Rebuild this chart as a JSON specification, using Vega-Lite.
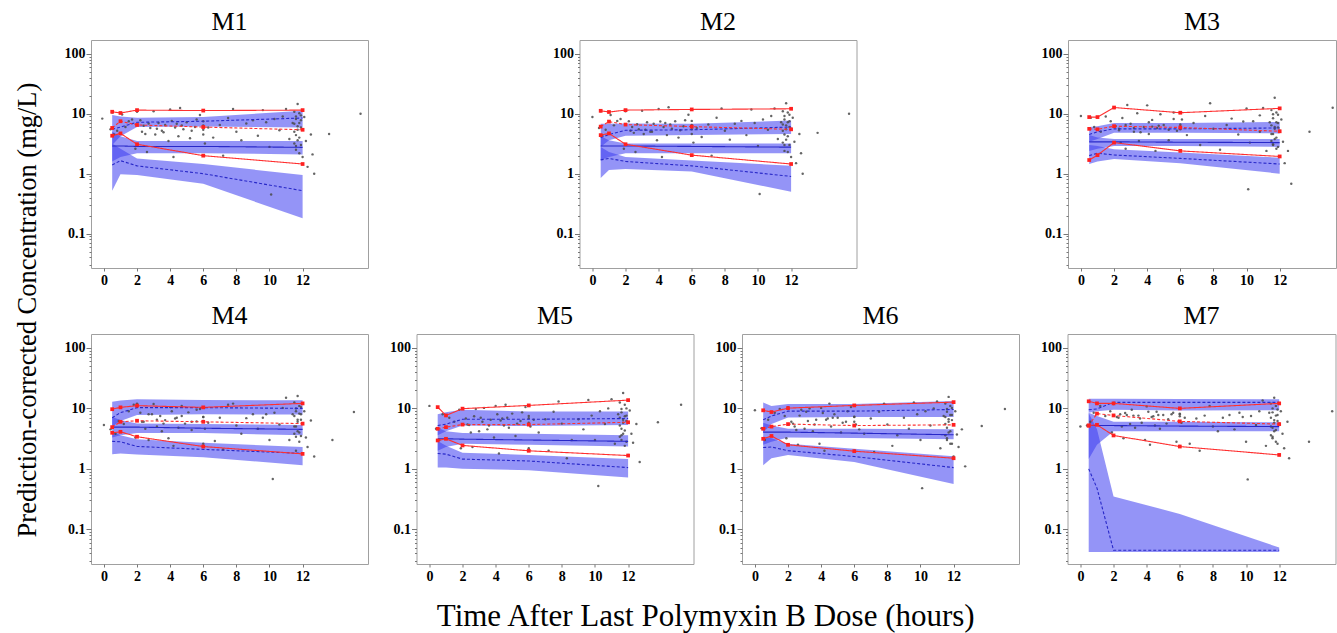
{
"$schema": "https://vega.github.io/schema/vega-lite/v6.json",
"background": "white",
"padding": {"left": 14, "top": 8, "right": 0, "bottom": 5},
"title": {"text": "Time After Last Polymyxin B Dose (hours)", "orient": "bottom", "anchor": "middle", "font": "Liberation Serif", "fontSize": 31, "fontWeight": "normal", "color": "#000", "offset": 18, "dx": 30},
"datasets": {"d": [
{"p":"M1","k":"b","g":"hi","t":0.5,"l":3.0,"h":9.5},{"p":"M1","k":"b","g":"hi","t":1,"l":4.2,"h":9.0},{"p":"M1","k":"b","g":"hi","t":2,"l":6.0,"h":8.6},{"p":"M1","k":"b","g":"hi","t":6,"l":6.1,"h":8.8},{"p":"M1","k":"b","g":"hi","t":12,"l":5.9,"h":11.2},
{"p":"M1","k":"b","g":"md","t":0.5,"l":1.6,"h":5.0},{"p":"M1","k":"b","g":"md","t":1,"l":1.9,"h":4.2},{"p":"M1","k":"b","g":"md","t":2,"l":2.2,"h":3.5},{"p":"M1","k":"b","g":"md","t":6,"l":2.2,"h":3.5},{"p":"M1","k":"b","g":"md","t":12,"l":2.1,"h":3.5},
{"p":"M1","k":"b","g":"lo","t":0.5,"l":0.52,"h":3.2},{"p":"M1","k":"b","g":"lo","t":1,"l":0.98,"h":2.6},{"p":"M1","k":"b","g":"lo","t":2,"l":0.95,"h":1.8},{"p":"M1","k":"b","g":"lo","t":6,"l":0.68,"h":1.45},{"p":"M1","k":"b","g":"lo","t":12,"l":0.18,"h":0.95},
{"p":"M1","k":"l","g":"s95","t":0.5,"v":5.5},{"p":"M1","k":"l","g":"s95","t":1,"v":6.0},{"p":"M1","k":"l","g":"s95","t":2,"v":7.2},{"p":"M1","k":"l","g":"s95","t":6,"v":7.5},{"p":"M1","k":"l","g":"s95","t":12,"v":8.5},
{"p":"M1","k":"l","g":"s50","t":0.5,"v":2.9},{"p":"M1","k":"l","g":"s50","t":1,"v":2.9},{"p":"M1","k":"l","g":"s50","t":2,"v":2.85},{"p":"M1","k":"l","g":"s50","t":6,"v":2.85},{"p":"M1","k":"l","g":"s50","t":12,"v":2.75},
{"p":"M1","k":"l","g":"s05","t":0.5,"v":1.4},{"p":"M1","k":"l","g":"s05","t":1,"v":1.65},{"p":"M1","k":"l","g":"s05","t":2,"v":1.35},{"p":"M1","k":"l","g":"s05","t":6,"v":1.0},{"p":"M1","k":"l","g":"s05","t":12,"v":0.52},
{"p":"M1","k":"l","g":"o95","t":0.5,"v":10.8},{"p":"M1","k":"l","g":"o95","t":1,"v":10.3},{"p":"M1","k":"l","g":"o95","t":2,"v":11.5},{"p":"M1","k":"l","g":"o95","t":6,"v":11.3},{"p":"M1","k":"l","g":"o95","t":12,"v":11.5},
{"p":"M1","k":"l","g":"o50","t":0.5,"v":5.8},{"p":"M1","k":"l","g":"o50","t":1,"v":7.5},{"p":"M1","k":"l","g":"o50","t":2,"v":6.5},{"p":"M1","k":"l","g":"o50","t":6,"v":6.0},{"p":"M1","k":"l","g":"o50","t":12,"v":5.4},
{"p":"M1","k":"l","g":"o05","t":0.5,"v":4.3},{"p":"M1","k":"l","g":"o05","t":1,"v":4.7},{"p":"M1","k":"l","g":"o05","t":2,"v":3.1},{"p":"M1","k":"l","g":"o05","t":6,"v":2.0},{"p":"M1","k":"l","g":"o05","t":12,"v":1.45},

{"p":"M2","k":"b","g":"hi","t":0.5,"l":2.8,"h":6.8},{"p":"M2","k":"b","g":"hi","t":1,"l":3.6,"h":6.8},{"p":"M2","k":"b","g":"hi","t":2,"l":4.3,"h":6.9},{"p":"M2","k":"b","g":"hi","t":6,"l":4.4,"h":6.8},{"p":"M2","k":"b","g":"hi","t":12,"l":4.6,"h":7.7},
{"p":"M2","k":"b","g":"md","t":0.5,"l":1.7,"h":4.2},{"p":"M2","k":"b","g":"md","t":1,"l":1.9,"h":3.6},{"p":"M2","k":"b","g":"md","t":2,"l":2.2,"h":3.2},{"p":"M2","k":"b","g":"md","t":6,"l":2.2,"h":3.2},{"p":"M2","k":"b","g":"md","t":12,"l":2.2,"h":3.2},
{"p":"M2","k":"b","g":"lo","t":0.5,"l":0.85,"h":2.8},{"p":"M2","k":"b","g":"lo","t":1,"l":1.15,"h":2.3},{"p":"M2","k":"b","g":"lo","t":2,"l":1.2,"h":1.9},{"p":"M2","k":"b","g":"lo","t":6,"l":1.09,"h":1.66},{"p":"M2","k":"b","g":"lo","t":12,"l":0.5,"h":1.36},
{"p":"M2","k":"l","g":"s95","t":0.5,"v":4.0},{"p":"M2","k":"l","g":"s95","t":1,"v":4.5},{"p":"M2","k":"l","g":"s95","t":2,"v":5.3},{"p":"M2","k":"l","g":"s95","t":6,"v":5.4},{"p":"M2","k":"l","g":"s95","t":12,"v":6.0},
{"p":"M2","k":"l","g":"s50","t":0.5,"v":2.9},{"p":"M2","k":"l","g":"s50","t":1,"v":2.9},{"p":"M2","k":"l","g":"s50","t":2,"v":2.9},{"p":"M2","k":"l","g":"s50","t":6,"v":2.85},{"p":"M2","k":"l","g":"s50","t":12,"v":2.77},
{"p":"M2","k":"l","g":"s05","t":0.5,"v":1.7},{"p":"M2","k":"l","g":"s05","t":1,"v":1.8},{"p":"M2","k":"l","g":"s05","t":2,"v":1.6},{"p":"M2","k":"l","g":"s05","t":6,"v":1.35},{"p":"M2","k":"l","g":"s05","t":12,"v":0.9},
{"p":"M2","k":"l","g":"o95","t":0.5,"v":11.2},{"p":"M2","k":"l","g":"o95","t":1,"v":10.7},{"p":"M2","k":"l","g":"o95","t":2,"v":11.5},{"p":"M2","k":"l","g":"o95","t":6,"v":11.8},{"p":"M2","k":"l","g":"o95","t":12,"v":12.1},
{"p":"M2","k":"l","g":"o50","t":0.5,"v":6.1},{"p":"M2","k":"l","g":"o50","t":1,"v":7.4},{"p":"M2","k":"l","g":"o50","t":2,"v":6.6},{"p":"M2","k":"l","g":"o50","t":6,"v":6.1},{"p":"M2","k":"l","g":"o50","t":12,"v":5.5},
{"p":"M2","k":"l","g":"o05","t":0.5,"v":4.4},{"p":"M2","k":"l","g":"o05","t":1,"v":4.7},{"p":"M2","k":"l","g":"o05","t":2,"v":3.1},{"p":"M2","k":"l","g":"o05","t":6,"v":2.04},{"p":"M2","k":"l","g":"o05","t":12,"v":1.45},

{"p":"M3","k":"b","g":"hi","t":0.5,"l":3.4,"h":6.0},{"p":"M3","k":"b","g":"hi","t":1,"l":3.8,"h":6.2},{"p":"M3","k":"b","g":"hi","t":2,"l":4.8,"h":7.0},{"p":"M3","k":"b","g":"hi","t":6,"l":4.8,"h":7.0},{"p":"M3","k":"b","g":"hi","t":12,"l":4.7,"h":7.3},
{"p":"M3","k":"b","g":"md","t":0.5,"l":2.4,"h":4.4},{"p":"M3","k":"b","g":"md","t":1,"l":2.6,"h":4.0},{"p":"M3","k":"b","g":"md","t":2,"l":2.9,"h":3.8},{"p":"M3","k":"b","g":"md","t":6,"l":2.9,"h":3.8},{"p":"M3","k":"b","g":"md","t":12,"l":2.8,"h":3.8},
{"p":"M3","k":"b","g":"lo","t":0.5,"l":1.45,"h":3.0},{"p":"M3","k":"b","g":"lo","t":1,"l":1.6,"h":2.9},{"p":"M3","k":"b","g":"lo","t":2,"l":1.75,"h":2.55},{"p":"M3","k":"b","g":"lo","t":6,"l":1.5,"h":2.25},{"p":"M3","k":"b","g":"lo","t":12,"l":1.0,"h":1.85},
{"p":"M3","k":"l","g":"s95","t":0.5,"v":4.5},{"p":"M3","k":"l","g":"s95","t":1,"v":5.0},{"p":"M3","k":"l","g":"s95","t":2,"v":5.6},{"p":"M3","k":"l","g":"s95","t":6,"v":5.6},{"p":"M3","k":"l","g":"s95","t":12,"v":5.8},
{"p":"M3","k":"l","g":"s50","t":0.5,"v":3.4},{"p":"M3","k":"l","g":"s50","t":1,"v":3.4},{"p":"M3","k":"l","g":"s50","t":2,"v":3.4},{"p":"M3","k":"l","g":"s50","t":6,"v":3.35},{"p":"M3","k":"l","g":"s50","t":12,"v":3.3},
{"p":"M3","k":"l","g":"s05","t":0.5,"v":2.0},{"p":"M3","k":"l","g":"s05","t":1,"v":2.2},{"p":"M3","k":"l","g":"s05","t":2,"v":2.05},{"p":"M3","k":"l","g":"s05","t":6,"v":1.8},{"p":"M3","k":"l","g":"s05","t":12,"v":1.45},
{"p":"M3","k":"l","g":"o95","t":0.5,"v":8.8},{"p":"M3","k":"l","g":"o95","t":1,"v":8.8},{"p":"M3","k":"l","g":"o95","t":2,"v":12.7},{"p":"M3","k":"l","g":"o95","t":6,"v":10.4},{"p":"M3","k":"l","g":"o95","t":12,"v":12.3},
{"p":"M3","k":"l","g":"o50","t":0.5,"v":5.6},{"p":"M3","k":"l","g":"o50","t":1,"v":5.5},{"p":"M3","k":"l","g":"o50","t":2,"v":6.2},{"p":"M3","k":"l","g":"o50","t":6,"v":5.9},{"p":"M3","k":"l","g":"o50","t":12,"v":5.1},
{"p":"M3","k":"l","g":"o05","t":0.5,"v":1.69},{"p":"M3","k":"l","g":"o05","t":1,"v":2.04},{"p":"M3","k":"l","g":"o05","t":2,"v":3.3},{"p":"M3","k":"l","g":"o05","t":6,"v":2.4},{"p":"M3","k":"l","g":"o05","t":12,"v":1.94},

{"p":"M4","k":"b","g":"hi","t":0.5,"l":5.0,"h":12.9},{"p":"M4","k":"b","g":"hi","t":1,"l":6.2,"h":13.5},{"p":"M4","k":"b","g":"hi","t":2,"l":7.8,"h":14.2},{"p":"M4","k":"b","g":"hi","t":6,"l":8.0,"h":13.8},{"p":"M4","k":"b","g":"hi","t":12,"l":7.9,"h":13.6},
{"p":"M4","k":"b","g":"md","t":0.5,"l":3.3,"h":7.2},{"p":"M4","k":"b","g":"md","t":1,"l":3.6,"h":6.4},{"p":"M4","k":"b","g":"md","t":2,"l":3.9,"h":5.6},{"p":"M4","k":"b","g":"md","t":6,"l":3.9,"h":5.5},{"p":"M4","k":"b","g":"md","t":12,"l":3.6,"h":5.3},
{"p":"M4","k":"b","g":"lo","t":0.5,"l":1.75,"h":4.2},{"p":"M4","k":"b","g":"lo","t":1,"l":1.8,"h":3.6},{"p":"M4","k":"b","g":"lo","t":2,"l":1.73,"h":3.1},{"p":"M4","k":"b","g":"lo","t":6,"l":1.56,"h":2.7},{"p":"M4","k":"b","g":"lo","t":12,"l":1.15,"h":2.3},
{"p":"M4","k":"l","g":"s95","t":0.5,"v":7.0},{"p":"M4","k":"l","g":"s95","t":1,"v":8.5},{"p":"M4","k":"l","g":"s95","t":2,"v":10.3},{"p":"M4","k":"l","g":"s95","t":6,"v":10.3},{"p":"M4","k":"l","g":"s95","t":12,"v":10.0},
{"p":"M4","k":"l","g":"s50","t":0.5,"v":4.9},{"p":"M4","k":"l","g":"s50","t":1,"v":4.9},{"p":"M4","k":"l","g":"s50","t":2,"v":4.9},{"p":"M4","k":"l","g":"s50","t":6,"v":4.7},{"p":"M4","k":"l","g":"s50","t":12,"v":4.5},
{"p":"M4","k":"l","g":"s05","t":0.5,"v":2.85},{"p":"M4","k":"l","g":"s05","t":1,"v":2.8},{"p":"M4","k":"l","g":"s05","t":2,"v":2.35},{"p":"M4","k":"l","g":"s05","t":6,"v":2.1},{"p":"M4","k":"l","g":"s05","t":12,"v":1.8},
{"p":"M4","k":"l","g":"o95","t":0.5,"v":9.7},{"p":"M4","k":"l","g":"o95","t":1,"v":10.4},{"p":"M4","k":"l","g":"o95","t":2,"v":11.1},{"p":"M4","k":"l","g":"o95","t":6,"v":10.4},{"p":"M4","k":"l","g":"o95","t":12,"v":12.1},
{"p":"M4","k":"l","g":"o50","t":0.5,"v":4.9},{"p":"M4","k":"l","g":"o50","t":1,"v":6.0},{"p":"M4","k":"l","g":"o50","t":2,"v":6.25},{"p":"M4","k":"l","g":"o50","t":6,"v":6.0},{"p":"M4","k":"l","g":"o50","t":12,"v":5.6},
{"p":"M4","k":"l","g":"o05","t":0.5,"v":3.95},{"p":"M4","k":"l","g":"o05","t":1,"v":4.1},{"p":"M4","k":"l","g":"o05","t":2,"v":3.4},{"p":"M4","k":"l","g":"o05","t":6,"v":2.34},{"p":"M4","k":"l","g":"o05","t":12,"v":1.77},

{"p":"M5","k":"b","g":"hi","t":0.5,"l":3.6,"h":8.0},{"p":"M5","k":"b","g":"hi","t":1,"l":4.2,"h":8.6},{"p":"M5","k":"b","g":"hi","t":2,"l":5.2,"h":9.5},{"p":"M5","k":"b","g":"hi","t":6,"l":5.1,"h":8.9},{"p":"M5","k":"b","g":"hi","t":12,"l":5.3,"h":8.9},
{"p":"M5","k":"b","g":"md","t":0.5,"l":2.0,"h":4.8},{"p":"M5","k":"b","g":"md","t":1,"l":2.3,"h":4.2},{"p":"M5","k":"b","g":"md","t":2,"l":2.6,"h":3.9},{"p":"M5","k":"b","g":"md","t":6,"l":2.5,"h":3.8},{"p":"M5","k":"b","g":"md","t":12,"l":2.35,"h":3.6},
{"p":"M5","k":"b","g":"lo","t":0.5,"l":1.05,"h":2.9},{"p":"M5","k":"b","g":"lo","t":1,"l":1.05,"h":2.4},{"p":"M5","k":"b","g":"lo","t":2,"l":1.0,"h":1.85},{"p":"M5","k":"b","g":"lo","t":6,"l":0.95,"h":1.7},{"p":"M5","k":"b","g":"lo","t":12,"l":0.72,"h":1.45},
{"p":"M5","k":"l","g":"s95","t":0.5,"v":5.2},{"p":"M5","k":"l","g":"s95","t":1,"v":5.5},{"p":"M5","k":"l","g":"s95","t":2,"v":6.6},{"p":"M5","k":"l","g":"s95","t":6,"v":6.6},{"p":"M5","k":"l","g":"s95","t":12,"v":6.8},
{"p":"M5","k":"l","g":"s50","t":0.5,"v":3.15},{"p":"M5","k":"l","g":"s50","t":1,"v":3.15},{"p":"M5","k":"l","g":"s50","t":2,"v":3.1},{"p":"M5","k":"l","g":"s50","t":6,"v":3.0},{"p":"M5","k":"l","g":"s50","t":12,"v":2.85},
{"p":"M5","k":"l","g":"s05","t":0.5,"v":1.8},{"p":"M5","k":"l","g":"s05","t":1,"v":1.75},{"p":"M5","k":"l","g":"s05","t":2,"v":1.45},{"p":"M5","k":"l","g":"s05","t":6,"v":1.35},{"p":"M5","k":"l","g":"s05","t":12,"v":1.05},
{"p":"M5","k":"l","g":"o95","t":0.5,"v":10.5},{"p":"M5","k":"l","g":"o95","t":1,"v":7.65},{"p":"M5","k":"l","g":"o95","t":2,"v":9.9},{"p":"M5","k":"l","g":"o95","t":6,"v":11.2},{"p":"M5","k":"l","g":"o95","t":12,"v":13.7},
{"p":"M5","k":"l","g":"o50","t":0.5,"v":4.6},{"p":"M5","k":"l","g":"o50","t":1,"v":4.9},{"p":"M5","k":"l","g":"o50","t":2,"v":5.4},{"p":"M5","k":"l","g":"o50","t":6,"v":5.4},{"p":"M5","k":"l","g":"o50","t":12,"v":5.9},
{"p":"M5","k":"l","g":"o05","t":0.5,"v":2.95},{"p":"M5","k":"l","g":"o05","t":1,"v":3.14},{"p":"M5","k":"l","g":"o05","t":2,"v":2.44},{"p":"M5","k":"l","g":"o05","t":6,"v":1.99},{"p":"M5","k":"l","g":"o05","t":12,"v":1.66},

{"p":"M6","k":"b","g":"hi","t":0.5,"l":4.0,"h":12.5},{"p":"M6","k":"b","g":"hi","t":1,"l":5.5,"h":11.0},{"p":"M6","k":"b","g":"hi","t":2,"l":7.1,"h":11.8},{"p":"M6","k":"b","g":"hi","t":6,"l":7.2,"h":11.8},{"p":"M6","k":"b","g":"hi","t":12,"l":7.2,"h":13.2},
{"p":"M6","k":"b","g":"md","t":0.5,"l":2.5,"h":5.8},{"p":"M6","k":"b","g":"md","t":1,"l":2.8,"h":5.2},{"p":"M6","k":"b","g":"md","t":2,"l":3.3,"h":4.6},{"p":"M6","k":"b","g":"md","t":6,"l":3.25,"h":4.6},{"p":"M6","k":"b","g":"md","t":12,"l":3.1,"h":4.5},
{"p":"M6","k":"b","g":"lo","t":0.5,"l":1.15,"h":3.4},{"p":"M6","k":"b","g":"lo","t":1,"l":1.5,"h":3.2},{"p":"M6","k":"b","g":"lo","t":2,"l":1.7,"h":2.6},{"p":"M6","k":"b","g":"lo","t":6,"l":1.3,"h":2.15},{"p":"M6","k":"b","g":"lo","t":12,"l":0.56,"h":1.62},
{"p":"M6","k":"l","g":"s95","t":0.5,"v":6.5},{"p":"M6","k":"l","g":"s95","t":1,"v":7.5},{"p":"M6","k":"l","g":"s95","t":2,"v":9.0},{"p":"M6","k":"l","g":"s95","t":6,"v":9.0},{"p":"M6","k":"l","g":"s95","t":12,"v":9.6},
{"p":"M6","k":"l","g":"s50","t":0.5,"v":4.05},{"p":"M6","k":"l","g":"s50","t":1,"v":4.05},{"p":"M6","k":"l","g":"s50","t":2,"v":4.05},{"p":"M6","k":"l","g":"s50","t":6,"v":3.9},{"p":"M6","k":"l","g":"s50","t":12,"v":3.66},
{"p":"M6","k":"l","g":"s05","t":0.5,"v":2.25},{"p":"M6","k":"l","g":"s05","t":1,"v":2.3},{"p":"M6","k":"l","g":"s05","t":2,"v":2.0},{"p":"M6","k":"l","g":"s05","t":6,"v":1.6},{"p":"M6","k":"l","g":"s05","t":12,"v":1.05},
{"p":"M6","k":"l","g":"o95","t":0.5,"v":9.3},{"p":"M6","k":"l","g":"o95","t":1,"v":8.7},{"p":"M6","k":"l","g":"o95","t":2,"v":10.1},{"p":"M6","k":"l","g":"o95","t":6,"v":11.2},{"p":"M6","k":"l","g":"o95","t":12,"v":12.7},
{"p":"M6","k":"l","g":"o50","t":0.5,"v":4.6},{"p":"M6","k":"l","g":"o50","t":1,"v":5.0},{"p":"M6","k":"l","g":"o50","t":2,"v":5.5},{"p":"M6","k":"l","g":"o50","t":6,"v":5.2},{"p":"M6","k":"l","g":"o50","t":12,"v":5.35},
{"p":"M6","k":"l","g":"o05","t":0.5,"v":3.14},{"p":"M6","k":"l","g":"o05","t":1,"v":3.5},{"p":"M6","k":"l","g":"o05","t":2,"v":2.5},{"p":"M6","k":"l","g":"o05","t":6,"v":1.96},{"p":"M6","k":"l","g":"o05","t":12,"v":1.5},

{"p":"M7","k":"b","g":"hi","t":0.5,"l":8.5,"h":14.5},{"p":"M7","k":"b","g":"hi","t":1,"l":9.0,"h":14.5},{"p":"M7","k":"b","g":"hi","t":2,"l":9.5,"h":14.5},{"p":"M7","k":"b","g":"hi","t":6,"l":9.2,"h":14.3},{"p":"M7","k":"b","g":"hi","t":12,"l":9.3,"h":14.2},
{"p":"M7","k":"b","g":"md","t":0.5,"l":1.45,"h":8.5},{"p":"M7","k":"b","g":"md","t":1,"l":2.5,"h":7.5},{"p":"M7","k":"b","g":"md","t":2,"l":4.2,"h":6.0},{"p":"M7","k":"b","g":"md","t":6,"l":4.2,"h":6.0},{"p":"M7","k":"b","g":"md","t":12,"l":4.2,"h":5.9},
{"p":"M7","k":"b","g":"lo","t":0.5,"l":0.042,"h":8.3},{"p":"M7","k":"b","g":"lo","t":1,"l":0.042,"h":4.5},{"p":"M7","k":"b","g":"lo","t":2,"l":0.042,"h":0.35},{"p":"M7","k":"b","g":"lo","t":6,"l":0.042,"h":0.18},{"p":"M7","k":"b","g":"lo","t":12,"l":0.042,"h":0.05},
{"p":"M7","k":"l","g":"s95","t":0.5,"v":9.5},{"p":"M7","k":"l","g":"s95","t":1,"v":9.8},{"p":"M7","k":"l","g":"s95","t":2,"v":12.6},{"p":"M7","k":"l","g":"s95","t":6,"v":12.6},{"p":"M7","k":"l","g":"s95","t":12,"v":12.6},
{"p":"M7","k":"l","g":"s50","t":0.5,"v":5.2},{"p":"M7","k":"l","g":"s50","t":1,"v":5.2},{"p":"M7","k":"l","g":"s50","t":2,"v":5.2},{"p":"M7","k":"l","g":"s50","t":6,"v":5.1},{"p":"M7","k":"l","g":"s50","t":12,"v":5.0},
{"p":"M7","k":"l","g":"s05","t":0.5,"v":1.0},{"p":"M7","k":"l","g":"s05","t":1,"v":0.48},{"p":"M7","k":"l","g":"s05","t":2,"v":0.045},{"p":"M7","k":"l","g":"s05","t":6,"v":0.045},{"p":"M7","k":"l","g":"s05","t":12,"v":0.045},
{"p":"M7","k":"l","g":"o95","t":0.5,"v":13.1},{"p":"M7","k":"l","g":"o95","t":1,"v":12.1},{"p":"M7","k":"l","g":"o95","t":2,"v":12.1},{"p":"M7","k":"l","g":"o95","t":6,"v":10.0},{"p":"M7","k":"l","g":"o95","t":12,"v":12.1},
{"p":"M7","k":"l","g":"o50","t":0.5,"v":5.2},{"p":"M7","k":"l","g":"o50","t":1,"v":8.2},{"p":"M7","k":"l","g":"o50","t":2,"v":7.65},{"p":"M7","k":"l","g":"o50","t":6,"v":6.1},{"p":"M7","k":"l","g":"o50","t":12,"v":5.5},
{"p":"M7","k":"l","g":"o05","t":0.5,"v":5.2},{"p":"M7","k":"l","g":"o05","t":1,"v":5.35},{"p":"M7","k":"l","g":"o05","t":2,"v":3.57},{"p":"M7","k":"l","g":"o05","t":6,"v":2.34},{"p":"M7","k":"l","g":"o05","t":12,"v":1.7},

{"p":"M1","k":"o","t":-0.1,"v":8.3},{"p":"M1","k":"o","t":0.4,"v":5.5},{"p":"M1","k":"o","t":0.5,"v":10.5},{"p":"M1","k":"o","t":0.6,"v":4.5},{"p":"M1","k":"o","t":0.8,"v":5.2},{"p":"M1","k":"o","t":1.1,"v":9.7},{"p":"M1","k":"o","t":1.3,"v":6.0},{"p":"M1","k":"o","t":1.5,"v":7.5},{"p":"M1","k":"o","t":1.7,"v":8.0},{"p":"M1","k":"o","t":1.9,"v":2.6},{"p":"M1","k":"o","t":2.0,"v":10.8},{"p":"M1","k":"o","t":2.2,"v":7.8},{"p":"M1","k":"o","t":2.4,"v":6.3},{"p":"M1","k":"o","t":2.5,"v":4.6},{"p":"M1","k":"o","t":2.6,"v":2.3},{"p":"M1","k":"o","t":2.8,"v":5.8},{"p":"M1","k":"o","t":3.0,"v":11.0},{"p":"M1","k":"o","t":3.1,"v":4.5},{"p":"M1","k":"o","t":3.3,"v":7.0},{"p":"M1","k":"o","t":3.5,"v":5.2},{"p":"M1","k":"o","t":3.7,"v":6.5},{"p":"M1","k":"o","t":3.9,"v":3.5},{"p":"M1","k":"o","t":4.0,"v":11.8},{"p":"M1","k":"o","t":4.2,"v":1.9},{"p":"M1","k":"o","t":4.4,"v":6.8},{"p":"M1","k":"o","t":4.5,"v":4.2},{"p":"M1","k":"o","t":4.6,"v":12.5},{"p":"M1","k":"o","t":4.8,"v":5.5},{"p":"M1","k":"o","t":5.0,"v":7.2},{"p":"M1","k":"o","t":5.2,"v":3.9},{"p":"M1","k":"o","t":5.5,"v":6.0},{"p":"M1","k":"o","t":5.8,"v":9.5},{"p":"M1","k":"o","t":6.0,"v":4.5},{"p":"M1","k":"o","t":6.0,"v":7.5},{"p":"M1","k":"o","t":6.1,"v":3.2},{"p":"M1","k":"o","t":6.3,"v":5.9},{"p":"M1","k":"o","t":6.6,"v":4.0},{"p":"M1","k":"o","t":7.0,"v":6.5},{"p":"M1","k":"o","t":7.2,"v":2.0},{"p":"M1","k":"o","t":7.5,"v":8.5},{"p":"M1","k":"o","t":7.8,"v":12.0},{"p":"M1","k":"o","t":8.0,"v":5.0},{"p":"M1","k":"o","t":8.3,"v":3.6},{"p":"M1","k":"o","t":8.6,"v":6.9},{"p":"M1","k":"o","t":9.0,"v":7.8},{"p":"M1","k":"o","t":9.3,"v":4.3},{"p":"M1","k":"o","t":9.6,"v":11.5},{"p":"M1","k":"o","t":10.0,"v":2.8},{"p":"M1","k":"o","t":10.1,"v":0.45},{"p":"M1","k":"o","t":10.3,"v":8.2},{"p":"M1","k":"o","t":10.6,"v":5.3},{"p":"M1","k":"o","t":11.0,"v":12.0},{"p":"M1","k":"o","t":11.2,"v":3.8},{"p":"M1","k":"o","t":11.4,"v":7.0},{"p":"M1","k":"o","t":11.5,"v":5.0},{"p":"M1","k":"o","t":11.6,"v":9.0},{"p":"M1","k":"o","t":11.6,"v":2.5},{"p":"M1","k":"o","t":11.7,"v":14.5},{"p":"M1","k":"o","t":11.7,"v":6.2},{"p":"M1","k":"o","t":11.8,"v":4.0},{"p":"M1","k":"o","t":11.8,"v":10.2},{"p":"M1","k":"o","t":11.9,"v":3.0},{"p":"M1","k":"o","t":11.9,"v":7.8},{"p":"M1","k":"o","t":12.0,"v":1.9},{"p":"M1","k":"o","t":12.0,"v":5.5},{"p":"M1","k":"o","t":12.1,"v":8.8},{"p":"M1","k":"o","t":12.2,"v":3.5},{"p":"M1","k":"o","t":12.3,"v":1.3},{"p":"M1","k":"o","t":12.5,"v":4.5},{"p":"M1","k":"o","t":12.7,"v":1.0},{"p":"M1","k":"o","t":12.6,"v":2.1},{"p":"M1","k":"o","t":13.6,"v":4.6},{"p":"M1","k":"o","t":15.5,"v":10.0},
{"p":"M1","k":"o","t":11.5,"v":3.2},{"p":"M1","k":"o","t":11.5,"v":6.8},{"p":"M1","k":"o","t":11.6,"v":4.4},{"p":"M1","k":"o","t":11.6,"v":8.2},{"p":"M1","k":"o","t":11.7,"v":5.4},{"p":"M1","k":"o","t":11.7,"v":3.6},{"p":"M1","k":"o","t":11.8,"v":7.0},{"p":"M1","k":"o","t":11.8,"v":2.2},{"p":"M1","k":"o","t":11.9,"v":5.9},{"p":"M1","k":"o","t":11.9,"v":9.4},{"p":"M1","k":"o","t":11.5,"v":10.8},{"p":"M1","k":"o","t":11.6,"v":2.9},{"p":"M1","k":"o","t":2.3,"v":5.0},{"p":"M1","k":"o","t":2.7,"v":6.9},{"p":"M1","k":"o","t":3.2,"v":5.6},{"p":"M1","k":"o","t":3.6,"v":4.9},{"p":"M1","k":"o","t":4.1,"v":7.6},{"p":"M1","k":"o","t":4.3,"v":5.9},{"p":"M1","k":"o","t":4.7,"v":6.4},{"p":"M1","k":"o","t":5.3,"v":5.2},{"p":"M1","k":"o","t":5.6,"v":8.0},{"p":"M1","k":"o","t":6.0,"v":5.4},{"p":"M1","k":"o","t":6.0,"v":6.4},{"p":"M1","k":"o","t":9.8,"v":7.2},{"p":"M1","k":"o","t":10.8,"v":9.0},

{"p":"M2","k":"o","t":0.0,"v":8.8},{"p":"M2","k":"o","t":0.4,"v":5.8},{"p":"M2","k":"o","t":0.5,"v":11.0},{"p":"M2","k":"o","t":0.6,"v":4.4},{"p":"M2","k":"o","t":0.8,"v":5.4},{"p":"M2","k":"o","t":1.1,"v":9.5},{"p":"M2","k":"o","t":1.3,"v":6.4},{"p":"M2","k":"o","t":1.5,"v":7.6},{"p":"M2","k":"o","t":1.7,"v":8.2},{"p":"M2","k":"o","t":1.9,"v":2.6},{"p":"M2","k":"o","t":2.0,"v":11.0},{"p":"M2","k":"o","t":2.2,"v":7.5},{"p":"M2","k":"o","t":2.4,"v":6.0},{"p":"M2","k":"o","t":2.5,"v":4.8},{"p":"M2","k":"o","t":2.6,"v":2.3},{"p":"M2","k":"o","t":2.8,"v":5.5},{"p":"M2","k":"o","t":3.0,"v":11.2},{"p":"M2","k":"o","t":3.1,"v":4.6},{"p":"M2","k":"o","t":3.3,"v":7.2},{"p":"M2","k":"o","t":3.5,"v":5.0},{"p":"M2","k":"o","t":3.7,"v":6.8},{"p":"M2","k":"o","t":3.9,"v":3.6},{"p":"M2","k":"o","t":4.0,"v":12.0},{"p":"M2","k":"o","t":4.2,"v":1.9},{"p":"M2","k":"o","t":4.4,"v":7.0},{"p":"M2","k":"o","t":4.5,"v":4.4},{"p":"M2","k":"o","t":4.6,"v":12.8},{"p":"M2","k":"o","t":4.8,"v":5.6},{"p":"M2","k":"o","t":5.0,"v":7.5},{"p":"M2","k":"o","t":5.2,"v":4.0},{"p":"M2","k":"o","t":5.5,"v":6.2},{"p":"M2","k":"o","t":5.8,"v":9.6},{"p":"M2","k":"o","t":6.0,"v":4.6},{"p":"M2","k":"o","t":6.0,"v":7.6},{"p":"M2","k":"o","t":6.1,"v":3.3},{"p":"M2","k":"o","t":6.3,"v":5.8},{"p":"M2","k":"o","t":6.6,"v":4.1},{"p":"M2","k":"o","t":7.0,"v":6.6},{"p":"M2","k":"o","t":7.2,"v":2.0},{"p":"M2","k":"o","t":7.5,"v":8.6},{"p":"M2","k":"o","t":7.8,"v":12.2},{"p":"M2","k":"o","t":8.0,"v":5.2},{"p":"M2","k":"o","t":8.3,"v":3.7},{"p":"M2","k":"o","t":8.6,"v":6.8},{"p":"M2","k":"o","t":9.0,"v":7.6},{"p":"M2","k":"o","t":9.3,"v":4.4},{"p":"M2","k":"o","t":9.6,"v":11.8},{"p":"M2","k":"o","t":10.0,"v":2.9},{"p":"M2","k":"o","t":10.1,"v":0.46},{"p":"M2","k":"o","t":10.3,"v":8.0},{"p":"M2","k":"o","t":10.6,"v":5.4},{"p":"M2","k":"o","t":11.0,"v":12.2},{"p":"M2","k":"o","t":11.2,"v":3.8},{"p":"M2","k":"o","t":11.4,"v":7.2},{"p":"M2","k":"o","t":11.5,"v":5.2},{"p":"M2","k":"o","t":11.6,"v":9.2},{"p":"M2","k":"o","t":11.6,"v":2.4},{"p":"M2","k":"o","t":11.7,"v":15.0},{"p":"M2","k":"o","t":11.7,"v":6.4},{"p":"M2","k":"o","t":11.8,"v":4.2},{"p":"M2","k":"o","t":11.8,"v":10.5},{"p":"M2","k":"o","t":11.9,"v":3.0},{"p":"M2","k":"o","t":11.9,"v":7.5},{"p":"M2","k":"o","t":12.0,"v":1.9},{"p":"M2","k":"o","t":12.0,"v":5.6},{"p":"M2","k":"o","t":12.1,"v":8.6},{"p":"M2","k":"o","t":12.2,"v":3.4},{"p":"M2","k":"o","t":12.3,"v":1.5},{"p":"M2","k":"o","t":12.5,"v":4.6},{"p":"M2","k":"o","t":12.7,"v":1.0},{"p":"M2","k":"o","t":12.6,"v":2.2},{"p":"M2","k":"o","t":13.6,"v":4.8},{"p":"M2","k":"o","t":15.5,"v":10.0},
{"p":"M2","k":"o","t":11.5,"v":3.3},{"p":"M2","k":"o","t":11.5,"v":6.6},{"p":"M2","k":"o","t":11.6,"v":4.5},{"p":"M2","k":"o","t":11.6,"v":8.0},{"p":"M2","k":"o","t":11.7,"v":5.5},{"p":"M2","k":"o","t":11.7,"v":3.7},{"p":"M2","k":"o","t":11.8,"v":7.2},{"p":"M2","k":"o","t":11.8,"v":2.3},{"p":"M2","k":"o","t":11.9,"v":6.0},{"p":"M2","k":"o","t":11.9,"v":9.6},{"p":"M2","k":"o","t":11.5,"v":11.0},{"p":"M2","k":"o","t":11.6,"v":3.0},{"p":"M2","k":"o","t":2.3,"v":5.2},{"p":"M2","k":"o","t":2.7,"v":6.7},{"p":"M2","k":"o","t":3.2,"v":5.4},{"p":"M2","k":"o","t":3.6,"v":5.0},{"p":"M2","k":"o","t":4.1,"v":7.4},{"p":"M2","k":"o","t":4.3,"v":6.0},{"p":"M2","k":"o","t":4.7,"v":6.6},{"p":"M2","k":"o","t":5.3,"v":5.3},{"p":"M2","k":"o","t":5.6,"v":7.8},{"p":"M2","k":"o","t":6.0,"v":5.5},{"p":"M2","k":"o","t":6.0,"v":6.5},{"p":"M2","k":"o","t":9.8,"v":7.0},{"p":"M2","k":"o","t":10.8,"v":9.2},

{"p":"M3","k":"o","t":0.0,"v":9.2},{"p":"M3","k":"o","t":0.5,"v":5.6},{"p":"M3","k":"o","t":0.6,"v":8.6},{"p":"M3","k":"o","t":0.8,"v":6.0},{"p":"M3","k":"o","t":1.2,"v":5.0},{"p":"M3","k":"o","t":1.5,"v":9.0},{"p":"M3","k":"o","t":1.8,"v":7.5},{"p":"M3","k":"o","t":2.0,"v":12.5},{"p":"M3","k":"o","t":2.1,"v":6.2},{"p":"M3","k":"o","t":2.3,"v":5.3},{"p":"M3","k":"o","t":2.4,"v":3.3},{"p":"M3","k":"o","t":2.5,"v":8.5},{"p":"M3","k":"o","t":2.7,"v":2.6},{"p":"M3","k":"o","t":2.8,"v":14.0},{"p":"M3","k":"o","t":3.0,"v":6.8},{"p":"M3","k":"o","t":3.2,"v":5.0},{"p":"M3","k":"o","t":3.4,"v":10.2},{"p":"M3","k":"o","t":3.5,"v":3.5},{"p":"M3","k":"o","t":3.8,"v":6.0},{"p":"M3","k":"o","t":4.0,"v":13.8},{"p":"M3","k":"o","t":4.1,"v":4.6},{"p":"M3","k":"o","t":4.3,"v":7.9},{"p":"M3","k":"o","t":4.5,"v":2.4},{"p":"M3","k":"o","t":4.6,"v":5.8},{"p":"M3","k":"o","t":4.8,"v":9.8},{"p":"M3","k":"o","t":5.0,"v":6.5},{"p":"M3","k":"o","t":5.3,"v":3.6},{"p":"M3","k":"o","t":5.6,"v":10.5},{"p":"M3","k":"o","t":5.8,"v":5.2},{"p":"M3","k":"o","t":6.0,"v":2.4},{"p":"M3","k":"o","t":6.0,"v":6.2},{"p":"M3","k":"o","t":6.1,"v":8.0},{"p":"M3","k":"o","t":6.4,"v":4.4},{"p":"M3","k":"o","t":6.8,"v":7.0},{"p":"M3","k":"o","t":7.2,"v":3.0},{"p":"M3","k":"o","t":7.5,"v":9.2},{"p":"M3","k":"o","t":7.8,"v":15.0},{"p":"M3","k":"o","t":8.0,"v":5.6},{"p":"M3","k":"o","t":8.4,"v":2.5},{"p":"M3","k":"o","t":8.8,"v":6.5},{"p":"M3","k":"o","t":9.1,"v":8.3},{"p":"M3","k":"o","t":9.5,"v":4.5},{"p":"M3","k":"o","t":10.0,"v":12.2},{"p":"M3","k":"o","t":10.1,"v":0.55},{"p":"M3","k":"o","t":10.2,"v":3.3},{"p":"M3","k":"o","t":10.4,"v":7.5},{"p":"M3","k":"o","t":10.8,"v":5.0},{"p":"M3","k":"o","t":11.0,"v":12.5},{"p":"M3","k":"o","t":11.2,"v":2.4},{"p":"M3","k":"o","t":11.4,"v":7.2},{"p":"M3","k":"o","t":11.5,"v":4.6},{"p":"M3","k":"o","t":11.6,"v":9.8},{"p":"M3","k":"o","t":11.6,"v":3.0},{"p":"M3","k":"o","t":11.7,"v":18.5},{"p":"M3","k":"o","t":11.7,"v":6.0},{"p":"M3","k":"o","t":11.8,"v":4.0},{"p":"M3","k":"o","t":11.8,"v":10.5},{"p":"M3","k":"o","t":11.9,"v":2.8},{"p":"M3","k":"o","t":11.9,"v":7.0},{"p":"M3","k":"o","t":12.0,"v":5.2},{"p":"M3","k":"o","t":12.1,"v":8.0},{"p":"M3","k":"o","t":12.2,"v":3.4},{"p":"M3","k":"o","t":12.3,"v":1.5},{"p":"M3","k":"o","t":12.5,"v":2.4},{"p":"M3","k":"o","t":12.7,"v":0.68},{"p":"M3","k":"o","t":13.8,"v":5.0},{"p":"M3","k":"o","t":15.2,"v":12.6},
{"p":"M3","k":"o","t":11.5,"v":3.5},{"p":"M3","k":"o","t":11.5,"v":6.4},{"p":"M3","k":"o","t":11.6,"v":4.6},{"p":"M3","k":"o","t":11.6,"v":8.4},{"p":"M3","k":"o","t":11.7,"v":5.6},{"p":"M3","k":"o","t":11.7,"v":3.8},{"p":"M3","k":"o","t":11.8,"v":7.2},{"p":"M3","k":"o","t":11.8,"v":2.6},{"p":"M3","k":"o","t":11.9,"v":5.9},{"p":"M3","k":"o","t":11.9,"v":9.6},{"p":"M3","k":"o","t":11.5,"v":11.5},{"p":"M3","k":"o","t":11.6,"v":3.1},{"p":"M3","k":"o","t":2.3,"v":5.6},{"p":"M3","k":"o","t":2.7,"v":6.5},{"p":"M3","k":"o","t":3.2,"v":5.8},{"p":"M3","k":"o","t":3.6,"v":4.9},{"p":"M3","k":"o","t":4.1,"v":7.2},{"p":"M3","k":"o","t":4.3,"v":6.1},{"p":"M3","k":"o","t":4.7,"v":6.3},{"p":"M3","k":"o","t":5.3,"v":5.4},{"p":"M3","k":"o","t":5.6,"v":8.2},{"p":"M3","k":"o","t":6.0,"v":5.5},{"p":"M3","k":"o","t":6.0,"v":6.6},{"p":"M3","k":"o","t":9.8,"v":7.4},{"p":"M3","k":"o","t":10.8,"v":9.4},

{"p":"M4","k":"o","t":0.0,"v":5.3},{"p":"M4","k":"o","t":0.4,"v":4.5},{"p":"M4","k":"o","t":0.7,"v":3.8},{"p":"M4","k":"o","t":0.9,"v":6.2},{"p":"M4","k":"o","t":1.2,"v":5.5},{"p":"M4","k":"o","t":1.5,"v":9.0},{"p":"M4","k":"o","t":1.8,"v":11.5},{"p":"M4","k":"o","t":1.9,"v":3.3},{"p":"M4","k":"o","t":2.0,"v":12.0},{"p":"M4","k":"o","t":2.2,"v":8.5},{"p":"M4","k":"o","t":2.4,"v":6.0},{"p":"M4","k":"o","t":2.5,"v":4.6},{"p":"M4","k":"o","t":2.7,"v":3.0},{"p":"M4","k":"o","t":2.9,"v":8.0},{"p":"M4","k":"o","t":3.0,"v":11.8},{"p":"M4","k":"o","t":3.2,"v":5.0},{"p":"M4","k":"o","t":3.4,"v":7.5},{"p":"M4","k":"o","t":3.5,"v":4.2},{"p":"M4","k":"o","t":3.7,"v":6.4},{"p":"M4","k":"o","t":3.9,"v":3.2},{"p":"M4","k":"o","t":4.0,"v":10.5},{"p":"M4","k":"o","t":4.2,"v":2.4},{"p":"M4","k":"o","t":4.4,"v":7.0},{"p":"M4","k":"o","t":4.5,"v":4.8},{"p":"M4","k":"o","t":4.7,"v":11.0},{"p":"M4","k":"o","t":4.9,"v":5.6},{"p":"M4","k":"o","t":5.1,"v":8.6},{"p":"M4","k":"o","t":5.3,"v":4.4},{"p":"M4","k":"o","t":5.6,"v":6.1},{"p":"M4","k":"o","t":5.8,"v":9.8},{"p":"M4","k":"o","t":6.0,"v":2.6},{"p":"M4","k":"o","t":6.0,"v":7.2},{"p":"M4","k":"o","t":6.1,"v":4.6},{"p":"M4","k":"o","t":6.3,"v":5.8},{"p":"M4","k":"o","t":6.7,"v":2.9},{"p":"M4","k":"o","t":7.0,"v":7.0},{"p":"M4","k":"o","t":7.2,"v":2.1},{"p":"M4","k":"o","t":7.5,"v":11.5},{"p":"M4","k":"o","t":7.8,"v":12.0},{"p":"M4","k":"o","t":8.0,"v":5.2},{"p":"M4","k":"o","t":8.3,"v":3.8},{"p":"M4","k":"o","t":8.6,"v":6.9},{"p":"M4","k":"o","t":9.0,"v":8.0},{"p":"M4","k":"o","t":9.3,"v":4.6},{"p":"M4","k":"o","t":9.6,"v":7.0},{"p":"M4","k":"o","t":10.0,"v":3.0},{"p":"M4","k":"o","t":10.2,"v":0.68},{"p":"M4","k":"o","t":10.3,"v":8.5},{"p":"M4","k":"o","t":10.6,"v":5.4},{"p":"M4","k":"o","t":11.0,"v":15.0},{"p":"M4","k":"o","t":11.2,"v":3.0},{"p":"M4","k":"o","t":11.4,"v":8.0},{"p":"M4","k":"o","t":11.5,"v":5.0},{"p":"M4","k":"o","t":11.6,"v":10.0},{"p":"M4","k":"o","t":11.6,"v":2.0},{"p":"M4","k":"o","t":11.7,"v":16.0},{"p":"M4","k":"o","t":11.7,"v":6.5},{"p":"M4","k":"o","t":11.8,"v":4.0},{"p":"M4","k":"o","t":11.8,"v":11.0},{"p":"M4","k":"o","t":11.9,"v":3.5},{"p":"M4","k":"o","t":11.9,"v":8.0},{"p":"M4","k":"o","t":12.0,"v":1.8},{"p":"M4","k":"o","t":12.0,"v":5.5},{"p":"M4","k":"o","t":12.1,"v":9.0},{"p":"M4","k":"o","t":12.2,"v":3.3},{"p":"M4","k":"o","t":12.3,"v":2.3},{"p":"M4","k":"o","t":12.5,"v":6.3},{"p":"M4","k":"o","t":12.7,"v":1.6},{"p":"M4","k":"o","t":13.8,"v":3.0},{"p":"M4","k":"o","t":15.1,"v":8.7},
{"p":"M4","k":"o","t":11.5,"v":3.8},{"p":"M4","k":"o","t":11.5,"v":7.5},{"p":"M4","k":"o","t":11.6,"v":5.0},{"p":"M4","k":"o","t":11.6,"v":9.0},{"p":"M4","k":"o","t":11.7,"v":6.0},{"p":"M4","k":"o","t":11.7,"v":4.2},{"p":"M4","k":"o","t":11.8,"v":8.2},{"p":"M4","k":"o","t":11.8,"v":2.8},{"p":"M4","k":"o","t":11.9,"v":6.5},{"p":"M4","k":"o","t":11.9,"v":10.5},{"p":"M4","k":"o","t":11.5,"v":12.5},{"p":"M4","k":"o","t":11.6,"v":3.4},{"p":"M4","k":"o","t":2.3,"v":6.0},{"p":"M4","k":"o","t":2.7,"v":8.0},{"p":"M4","k":"o","t":3.2,"v":6.5},{"p":"M4","k":"o","t":3.6,"v":5.6},{"p":"M4","k":"o","t":4.1,"v":9.0},{"p":"M4","k":"o","t":4.3,"v":6.8},{"p":"M4","k":"o","t":4.7,"v":7.5},{"p":"M4","k":"o","t":5.3,"v":6.0},{"p":"M4","k":"o","t":5.6,"v":9.5},{"p":"M4","k":"o","t":6.0,"v":6.2},{"p":"M4","k":"o","t":6.0,"v":7.2},{"p":"M4","k":"o","t":9.8,"v":8.0},{"p":"M4","k":"o","t":10.8,"v":10.2},

{"p":"M5","k":"o","t":0.0,"v":11.0},{"p":"M5","k":"o","t":0.4,"v":4.6},{"p":"M5","k":"o","t":0.6,"v":3.0},{"p":"M5","k":"o","t":0.8,"v":8.0},{"p":"M5","k":"o","t":1.2,"v":7.0},{"p":"M5","k":"o","t":1.5,"v":6.0},{"p":"M5","k":"o","t":1.8,"v":9.5},{"p":"M5","k":"o","t":1.9,"v":2.2},{"p":"M5","k":"o","t":2.0,"v":10.0},{"p":"M5","k":"o","t":2.2,"v":6.8},{"p":"M5","k":"o","t":2.4,"v":5.3},{"p":"M5","k":"o","t":2.5,"v":4.0},{"p":"M5","k":"o","t":2.6,"v":2.3},{"p":"M5","k":"o","t":2.8,"v":9.8},{"p":"M5","k":"o","t":3.0,"v":4.2},{"p":"M5","k":"o","t":3.1,"v":7.0},{"p":"M5","k":"o","t":3.3,"v":10.2},{"p":"M5","k":"o","t":3.5,"v":4.5},{"p":"M5","k":"o","t":3.7,"v":6.5},{"p":"M5","k":"o","t":3.9,"v":3.3},{"p":"M5","k":"o","t":4.0,"v":11.0},{"p":"M5","k":"o","t":4.2,"v":1.8},{"p":"M5","k":"o","t":4.4,"v":6.8},{"p":"M5","k":"o","t":4.5,"v":5.2},{"p":"M5","k":"o","t":4.6,"v":11.5},{"p":"M5","k":"o","t":4.8,"v":4.8},{"p":"M5","k":"o","t":5.0,"v":8.2},{"p":"M5","k":"o","t":5.2,"v":3.5},{"p":"M5","k":"o","t":5.5,"v":6.2},{"p":"M5","k":"o","t":5.8,"v":10.5},{"p":"M5","k":"o","t":6.0,"v":2.2},{"p":"M5","k":"o","t":6.0,"v":7.5},{"p":"M5","k":"o","t":6.1,"v":5.0},{"p":"M5","k":"o","t":6.3,"v":6.5},{"p":"M5","k":"o","t":6.6,"v":4.0},{"p":"M5","k":"o","t":7.0,"v":6.6},{"p":"M5","k":"o","t":7.2,"v":2.0},{"p":"M5","k":"o","t":7.5,"v":8.8},{"p":"M5","k":"o","t":7.8,"v":13.0},{"p":"M5","k":"o","t":8.0,"v":5.6},{"p":"M5","k":"o","t":8.3,"v":1.5},{"p":"M5","k":"o","t":8.6,"v":3.0},{"p":"M5","k":"o","t":9.0,"v":6.6},{"p":"M5","k":"o","t":9.3,"v":4.5},{"p":"M5","k":"o","t":9.6,"v":13.8},{"p":"M5","k":"o","t":10.0,"v":3.0},{"p":"M5","k":"o","t":10.2,"v":0.52},{"p":"M5","k":"o","t":10.3,"v":9.0},{"p":"M5","k":"o","t":10.6,"v":5.5},{"p":"M5","k":"o","t":11.0,"v":14.2},{"p":"M5","k":"o","t":11.2,"v":2.6},{"p":"M5","k":"o","t":11.4,"v":8.0},{"p":"M5","k":"o","t":11.5,"v":5.2},{"p":"M5","k":"o","t":11.6,"v":9.8},{"p":"M5","k":"o","t":11.6,"v":3.6},{"p":"M5","k":"o","t":11.7,"v":18.0},{"p":"M5","k":"o","t":11.7,"v":6.5},{"p":"M5","k":"o","t":11.8,"v":4.3},{"p":"M5","k":"o","t":11.8,"v":11.5},{"p":"M5","k":"o","t":11.9,"v":2.8},{"p":"M5","k":"o","t":11.9,"v":7.6},{"p":"M5","k":"o","t":12.0,"v":1.7},{"p":"M5","k":"o","t":12.0,"v":5.8},{"p":"M5","k":"o","t":12.1,"v":9.2},{"p":"M5","k":"o","t":12.2,"v":3.8},{"p":"M5","k":"o","t":12.3,"v":2.7},{"p":"M5","k":"o","t":12.5,"v":5.5},{"p":"M5","k":"o","t":12.7,"v":1.3},{"p":"M5","k":"o","t":13.8,"v":5.9},{"p":"M5","k":"o","t":15.2,"v":11.5},
{"p":"M5","k":"o","t":11.5,"v":3.4},{"p":"M5","k":"o","t":11.5,"v":7.0},{"p":"M5","k":"o","t":11.6,"v":4.6},{"p":"M5","k":"o","t":11.6,"v":8.6},{"p":"M5","k":"o","t":11.7,"v":5.8},{"p":"M5","k":"o","t":11.7,"v":3.8},{"p":"M5","k":"o","t":11.8,"v":7.4},{"p":"M5","k":"o","t":11.8,"v":2.4},{"p":"M5","k":"o","t":11.9,"v":6.2},{"p":"M5","k":"o","t":11.9,"v":10.0},{"p":"M5","k":"o","t":11.5,"v":12.5},{"p":"M5","k":"o","t":11.6,"v":3.0},{"p":"M5","k":"o","t":2.3,"v":5.4},{"p":"M5","k":"o","t":2.7,"v":7.4},{"p":"M5","k":"o","t":3.2,"v":6.0},{"p":"M5","k":"o","t":3.6,"v":5.2},{"p":"M5","k":"o","t":4.1,"v":8.0},{"p":"M5","k":"o","t":4.3,"v":6.3},{"p":"M5","k":"o","t":4.7,"v":7.0},{"p":"M5","k":"o","t":5.3,"v":5.6},{"p":"M5","k":"o","t":5.6,"v":8.6},{"p":"M5","k":"o","t":6.0,"v":5.8},{"p":"M5","k":"o","t":6.0,"v":6.9},{"p":"M5","k":"o","t":9.8,"v":7.6},{"p":"M5","k":"o","t":10.8,"v":10.0},

{"p":"M6","k":"o","t":0.0,"v":9.3},{"p":"M6","k":"o","t":0.4,"v":4.7},{"p":"M6","k":"o","t":0.6,"v":3.0},{"p":"M6","k":"o","t":0.8,"v":6.5},{"p":"M6","k":"o","t":1.2,"v":8.5},{"p":"M6","k":"o","t":1.5,"v":9.8},{"p":"M6","k":"o","t":1.8,"v":7.5},{"p":"M6","k":"o","t":1.9,"v":3.2},{"p":"M6","k":"o","t":2.0,"v":10.5},{"p":"M6","k":"o","t":2.2,"v":6.0},{"p":"M6","k":"o","t":2.4,"v":5.0},{"p":"M6","k":"o","t":2.5,"v":4.4},{"p":"M6","k":"o","t":2.6,"v":2.5},{"p":"M6","k":"o","t":2.8,"v":9.5},{"p":"M6","k":"o","t":3.0,"v":4.6},{"p":"M6","k":"o","t":3.1,"v":8.8},{"p":"M6","k":"o","t":3.3,"v":10.0},{"p":"M6","k":"o","t":3.5,"v":4.2},{"p":"M6","k":"o","t":3.7,"v":6.5},{"p":"M6","k":"o","t":3.9,"v":2.6},{"p":"M6","k":"o","t":4.0,"v":10.2},{"p":"M6","k":"o","t":4.2,"v":2.0},{"p":"M6","k":"o","t":4.4,"v":6.8},{"p":"M6","k":"o","t":4.5,"v":12.0},{"p":"M6","k":"o","t":4.6,"v":5.0},{"p":"M6","k":"o","t":4.8,"v":8.0},{"p":"M6","k":"o","t":5.0,"v":7.0},{"p":"M6","k":"o","t":5.2,"v":4.0},{"p":"M6","k":"o","t":5.5,"v":6.0},{"p":"M6","k":"o","t":5.8,"v":10.5},{"p":"M6","k":"o","t":6.0,"v":2.0},{"p":"M6","k":"o","t":6.0,"v":7.3},{"p":"M6","k":"o","t":6.1,"v":5.4},{"p":"M6","k":"o","t":6.3,"v":4.5},{"p":"M6","k":"o","t":6.6,"v":3.8},{"p":"M6","k":"o","t":7.0,"v":6.8},{"p":"M6","k":"o","t":7.2,"v":1.9},{"p":"M6","k":"o","t":7.5,"v":8.8},{"p":"M6","k":"o","t":7.8,"v":12.0},{"p":"M6","k":"o","t":8.0,"v":5.4},{"p":"M6","k":"o","t":8.3,"v":2.4},{"p":"M6","k":"o","t":8.6,"v":3.6},{"p":"M6","k":"o","t":9.0,"v":7.0},{"p":"M6","k":"o","t":9.3,"v":4.6},{"p":"M6","k":"o","t":9.6,"v":12.5},{"p":"M6","k":"o","t":10.0,"v":3.0},{"p":"M6","k":"o","t":10.1,"v":0.48},{"p":"M6","k":"o","t":10.3,"v":9.0},{"p":"M6","k":"o","t":10.6,"v":5.2},{"p":"M6","k":"o","t":11.0,"v":13.0},{"p":"M6","k":"o","t":11.2,"v":2.2},{"p":"M6","k":"o","t":11.4,"v":7.5},{"p":"M6","k":"o","t":11.5,"v":5.5},{"p":"M6","k":"o","t":11.6,"v":9.8},{"p":"M6","k":"o","t":11.6,"v":3.0},{"p":"M6","k":"o","t":11.7,"v":15.5},{"p":"M6","k":"o","t":11.7,"v":6.6},{"p":"M6","k":"o","t":11.8,"v":4.2},{"p":"M6","k":"o","t":11.8,"v":11.0},{"p":"M6","k":"o","t":11.9,"v":2.6},{"p":"M6","k":"o","t":11.9,"v":7.8},{"p":"M6","k":"o","t":12.0,"v":1.6},{"p":"M6","k":"o","t":12.0,"v":5.4},{"p":"M6","k":"o","t":12.1,"v":9.0},{"p":"M6","k":"o","t":12.2,"v":3.7},{"p":"M6","k":"o","t":12.3,"v":2.3},{"p":"M6","k":"o","t":12.5,"v":4.5},{"p":"M6","k":"o","t":12.7,"v":1.1},{"p":"M6","k":"o","t":13.7,"v":5.1},{"p":"M6","k":"o","t":15.1,"v":9.8},
{"p":"M6","k":"o","t":11.5,"v":3.6},{"p":"M6","k":"o","t":11.5,"v":7.2},{"p":"M6","k":"o","t":11.6,"v":4.8},{"p":"M6","k":"o","t":11.6,"v":8.8},{"p":"M6","k":"o","t":11.7,"v":6.0},{"p":"M6","k":"o","t":11.7,"v":4.0},{"p":"M6","k":"o","t":11.8,"v":7.8},{"p":"M6","k":"o","t":11.8,"v":2.6},{"p":"M6","k":"o","t":11.9,"v":6.4},{"p":"M6","k":"o","t":11.9,"v":10.2},{"p":"M6","k":"o","t":11.5,"v":12.0},{"p":"M6","k":"o","t":11.6,"v":3.2},{"p":"M6","k":"o","t":2.3,"v":5.6},{"p":"M6","k":"o","t":2.7,"v":7.6},{"p":"M6","k":"o","t":3.2,"v":6.2},{"p":"M6","k":"o","t":3.6,"v":5.4},{"p":"M6","k":"o","t":4.1,"v":8.4},{"p":"M6","k":"o","t":4.3,"v":6.5},{"p":"M6","k":"o","t":4.7,"v":7.0},{"p":"M6","k":"o","t":5.3,"v":5.8},{"p":"M6","k":"o","t":5.6,"v":9.0},{"p":"M6","k":"o","t":6.0,"v":6.0},{"p":"M6","k":"o","t":6.0,"v":7.2},{"p":"M6","k":"o","t":9.8,"v":8.0},{"p":"M6","k":"o","t":10.8,"v":10.0},

{"p":"M7","k":"o","t":0.0,"v":5.0},{"p":"M7","k":"o","t":0.4,"v":5.2},{"p":"M7","k":"o","t":0.6,"v":6.0},{"p":"M7","k":"o","t":0.8,"v":8.5},{"p":"M7","k":"o","t":1.2,"v":11.0},{"p":"M7","k":"o","t":1.5,"v":7.5},{"p":"M7","k":"o","t":1.8,"v":9.0},{"p":"M7","k":"o","t":1.9,"v":4.0},{"p":"M7","k":"o","t":2.0,"v":11.8},{"p":"M7","k":"o","t":2.2,"v":7.2},{"p":"M7","k":"o","t":2.4,"v":8.0},{"p":"M7","k":"o","t":2.5,"v":5.0},{"p":"M7","k":"o","t":2.6,"v":3.2},{"p":"M7","k":"o","t":2.8,"v":7.8},{"p":"M7","k":"o","t":3.0,"v":5.5},{"p":"M7","k":"o","t":3.1,"v":9.5},{"p":"M7","k":"o","t":3.3,"v":4.8},{"p":"M7","k":"o","t":3.5,"v":7.6},{"p":"M7","k":"o","t":3.7,"v":5.8},{"p":"M7","k":"o","t":3.9,"v":3.0},{"p":"M7","k":"o","t":4.0,"v":10.8},{"p":"M7","k":"o","t":4.2,"v":2.5},{"p":"M7","k":"o","t":4.4,"v":7.4},{"p":"M7","k":"o","t":4.5,"v":5.2},{"p":"M7","k":"o","t":4.6,"v":8.8},{"p":"M7","k":"o","t":4.8,"v":4.6},{"p":"M7","k":"o","t":5.0,"v":7.8},{"p":"M7","k":"o","t":5.2,"v":5.6},{"p":"M7","k":"o","t":5.5,"v":8.0},{"p":"M7","k":"o","t":5.8,"v":2.8},{"p":"M7","k":"o","t":6.0,"v":2.4},{"p":"M7","k":"o","t":6.0,"v":8.2},{"p":"M7","k":"o","t":6.1,"v":5.8},{"p":"M7","k":"o","t":6.3,"v":7.0},{"p":"M7","k":"o","t":6.6,"v":2.6},{"p":"M7","k":"o","t":7.0,"v":6.8},{"p":"M7","k":"o","t":7.2,"v":2.0},{"p":"M7","k":"o","t":7.5,"v":7.6},{"p":"M7","k":"o","t":7.8,"v":11.0},{"p":"M7","k":"o","t":8.0,"v":5.0},{"p":"M7","k":"o","t":8.3,"v":4.2},{"p":"M7","k":"o","t":8.6,"v":7.0},{"p":"M7","k":"o","t":9.0,"v":7.8},{"p":"M7","k":"o","t":9.3,"v":4.5},{"p":"M7","k":"o","t":9.6,"v":8.5},{"p":"M7","k":"o","t":10.0,"v":2.8},{"p":"M7","k":"o","t":10.1,"v":0.67},{"p":"M7","k":"o","t":10.3,"v":7.5},{"p":"M7","k":"o","t":10.6,"v":5.3},{"p":"M7","k":"o","t":11.0,"v":13.5},{"p":"M7","k":"o","t":11.2,"v":2.4},{"p":"M7","k":"o","t":11.4,"v":8.5},{"p":"M7","k":"o","t":11.5,"v":5.0},{"p":"M7","k":"o","t":11.6,"v":10.0},{"p":"M7","k":"o","t":11.6,"v":3.4},{"p":"M7","k":"o","t":11.7,"v":15.0},{"p":"M7","k":"o","t":11.7,"v":6.4},{"p":"M7","k":"o","t":11.8,"v":4.4},{"p":"M7","k":"o","t":11.8,"v":11.0},{"p":"M7","k":"o","t":11.9,"v":2.6},{"p":"M7","k":"o","t":11.9,"v":7.8},{"p":"M7","k":"o","t":12.0,"v":1.7},{"p":"M7","k":"o","t":12.0,"v":5.6},{"p":"M7","k":"o","t":12.1,"v":9.0},{"p":"M7","k":"o","t":12.2,"v":3.8},{"p":"M7","k":"o","t":12.3,"v":2.2},{"p":"M7","k":"o","t":12.5,"v":6.0},{"p":"M7","k":"o","t":12.6,"v":1.5},{"p":"M7","k":"o","t":13.8,"v":2.8},{"p":"M7","k":"o","t":15.2,"v":9.0},
{"p":"M7","k":"o","t":11.5,"v":3.6},{"p":"M7","k":"o","t":11.5,"v":7.0},{"p":"M7","k":"o","t":11.6,"v":4.8},{"p":"M7","k":"o","t":11.6,"v":8.6},{"p":"M7","k":"o","t":11.7,"v":5.8},{"p":"M7","k":"o","t":11.7,"v":4.2},{"p":"M7","k":"o","t":11.8,"v":7.6},{"p":"M7","k":"o","t":11.8,"v":2.8},{"p":"M7","k":"o","t":11.9,"v":6.2},{"p":"M7","k":"o","t":11.9,"v":9.6},{"p":"M7","k":"o","t":11.5,"v":12.0},{"p":"M7","k":"o","t":11.6,"v":3.2},{"p":"M7","k":"o","t":2.3,"v":7.0},{"p":"M7","k":"o","t":2.7,"v":8.4},{"p":"M7","k":"o","t":3.2,"v":7.6},{"p":"M7","k":"o","t":3.6,"v":6.8},{"p":"M7","k":"o","t":4.1,"v":8.8},{"p":"M7","k":"o","t":4.3,"v":7.2},{"p":"M7","k":"o","t":4.7,"v":7.8},{"p":"M7","k":"o","t":5.3,"v":6.6},{"p":"M7","k":"o","t":5.6,"v":8.5},{"p":"M7","k":"o","t":6.0,"v":7.4},{"p":"M7","k":"o","t":6.0,"v":8.0},{"p":"M7","k":"o","t":9.8,"v":7.2},{"p":"M7","k":"o","t":10.8,"v":9.0}
]},
"vconcat": [{
  "title": {"text": "Prediction-corrected Concentration (mg/L)", "orient": "left", "anchor": "middle", "font": "Liberation Serif", "fontSize": 26.5, "fontWeight": "normal", "color": "#000", "offset": 22, "dx": -14},
  "bounds": "full",
  "spacing": 14,
  "vconcat": [
   {"bounds": "flush", "spacing": 211.5, "hconcat": [
    {"title": "M1", "width": 277, "height": 228, "data": {"name": "d"}, "transform": [{"filter": "datum.p=='M1'"}],
     "encoding": {"x": {"field": "t", "type": "quantitative", "scale": {"domain": [-0.78, 15.95], "nice": false, "zero": false}, "axis": {"values": [0,2,4,6,8,10,12], "title": null}}},
     "layer": [
      {"transform": [{"filter": "datum.k=='b'"}], "mark": {"type": "area", "color": "#3c3cf0", "opacity": 0.55}, "encoding": {"y": {"field": "l", "type": "quantitative", "scale": {"type": "log", "domain": [0.0267, 170], "nice": false}, "axis": {"values": [0.03,0.04,0.05,0.06,0.07,0.08,0.09,0.1,0.2,0.3,0.4,0.5,0.6,0.7,0.8,0.9,1,2,3,4,5,6,7,8,9,10,20,30,40,50,60,70,80,90,100], "format": "~g", "labelExpr": "indexof([0.1,1,10,100], datum.value) >= 0 ? datum.label : ''", "tickSize": {"condition": {"test": "indexof([0.1,1,10,100], datum.value) >= 0", "value": 5}, "value": 2}, "title": null}}, "y2": {"field": "h"}, "detail": {"field": "g"}}},
      {"transform": [{"filter": "datum.k=='o'"}], "mark": {"type": "point", "filled": true, "size": 6, "color": "#4a4a4a", "opacity": 0.85}, "encoding": {"y": {"field": "v", "type": "quantitative"}}},
      {"transform": [{"filter": "datum.k=='l'"}], "mark": {"type": "line", "strokeWidth": 1.1}, "encoding": {"y": {"field": "v", "type": "quantitative"}, "color": {"field": "g", "type": "nominal", "scale": {"domain": ["s05","s50","s95","o05","o50","o95"], "range": ["#2828c8","#2828c8","#2828c8","#ff3030","#ff3030","#ff3030"]}, "legend": null}, "strokeDash": {"field": "g", "type": "nominal", "scale": {"domain": ["s05","s50","s95","o05","o50","o95"], "range": [[3,2],[1,0],[3,2],[1,0],[3,2],[1,0]]}, "legend": null}}},
      {"transform": [{"filter": "datum.k=='l' && (datum.g=='o05' || datum.g=='o50' || datum.g=='o95')"}], "mark": {"type": "point", "shape": "square", "filled": true, "size": 14, "color": "#ff2020", "opacity": 1}, "encoding": {"y": {"field": "v", "type": "quantitative"}}}
     ]},
    {"title": "M2", "width": 277, "height": 228, "data": {"name": "d"}, "transform": [{"filter": "datum.p=='M2'"}],
     "encoding": {"x": {"field": "t", "type": "quantitative", "scale": {"domain": [-0.78, 15.95], "nice": false, "zero": false}, "axis": {"values": [0,2,4,6,8,10,12], "title": null}}},
     "layer": [
      {"transform": [{"filter": "datum.k=='b'"}], "mark": {"type": "area", "color": "#3c3cf0", "opacity": 0.55}, "encoding": {"y": {"field": "l", "type": "quantitative", "scale": {"type": "log", "domain": [0.0267, 170], "nice": false}, "axis": {"values": [0.03,0.04,0.05,0.06,0.07,0.08,0.09,0.1,0.2,0.3,0.4,0.5,0.6,0.7,0.8,0.9,1,2,3,4,5,6,7,8,9,10,20,30,40,50,60,70,80,90,100], "format": "~g", "labelExpr": "indexof([0.1,1,10,100], datum.value) >= 0 ? datum.label : ''", "tickSize": {"condition": {"test": "indexof([0.1,1,10,100], datum.value) >= 0", "value": 5}, "value": 2}, "title": null}}, "y2": {"field": "h"}, "detail": {"field": "g"}}},
      {"transform": [{"filter": "datum.k=='o'"}], "mark": {"type": "point", "filled": true, "size": 6, "color": "#4a4a4a", "opacity": 0.85}, "encoding": {"y": {"field": "v", "type": "quantitative"}}},
      {"transform": [{"filter": "datum.k=='l'"}], "mark": {"type": "line", "strokeWidth": 1.1}, "encoding": {"y": {"field": "v", "type": "quantitative"}, "color": {"field": "g", "type": "nominal", "scale": {"domain": ["s05","s50","s95","o05","o50","o95"], "range": ["#2828c8","#2828c8","#2828c8","#ff3030","#ff3030","#ff3030"]}, "legend": null}, "strokeDash": {"field": "g", "type": "nominal", "scale": {"domain": ["s05","s50","s95","o05","o50","o95"], "range": [[3,2],[1,0],[3,2],[1,0],[3,2],[1,0]]}, "legend": null}}},
      {"transform": [{"filter": "datum.k=='l' && (datum.g=='o05' || datum.g=='o50' || datum.g=='o95')"}], "mark": {"type": "point", "shape": "square", "filled": true, "size": 14, "color": "#ff2020", "opacity": 1}, "encoding": {"y": {"field": "v", "type": "quantitative"}}}
     ]},
    {"title": "M3", "width": 268, "height": 228, "data": {"name": "d"}, "transform": [{"filter": "datum.p=='M3'"}],
     "encoding": {"x": {"field": "t", "type": "quantitative", "scale": {"domain": [-0.78, 15.4], "nice": false, "zero": false}, "axis": {"values": [0,2,4,6,8,10,12], "title": null}}},
     "layer": [
      {"transform": [{"filter": "datum.k=='b'"}], "mark": {"type": "area", "color": "#3c3cf0", "opacity": 0.55}, "encoding": {"y": {"field": "l", "type": "quantitative", "scale": {"type": "log", "domain": [0.0267, 170], "nice": false}, "axis": {"values": [0.03,0.04,0.05,0.06,0.07,0.08,0.09,0.1,0.2,0.3,0.4,0.5,0.6,0.7,0.8,0.9,1,2,3,4,5,6,7,8,9,10,20,30,40,50,60,70,80,90,100], "format": "~g", "labelExpr": "indexof([0.1,1,10,100], datum.value) >= 0 ? datum.label : ''", "tickSize": {"condition": {"test": "indexof([0.1,1,10,100], datum.value) >= 0", "value": 5}, "value": 2}, "title": null}}, "y2": {"field": "h"}, "detail": {"field": "g"}}},
      {"transform": [{"filter": "datum.k=='o'"}], "mark": {"type": "point", "filled": true, "size": 6, "color": "#4a4a4a", "opacity": 0.85}, "encoding": {"y": {"field": "v", "type": "quantitative"}}},
      {"transform": [{"filter": "datum.k=='l'"}], "mark": {"type": "line", "strokeWidth": 1.1}, "encoding": {"y": {"field": "v", "type": "quantitative"}, "color": {"field": "g", "type": "nominal", "scale": {"domain": ["s05","s50","s95","o05","o50","o95"], "range": ["#2828c8","#2828c8","#2828c8","#ff3030","#ff3030","#ff3030"]}, "legend": null}, "strokeDash": {"field": "g", "type": "nominal", "scale": {"domain": ["s05","s50","s95","o05","o50","o95"], "range": [[3,2],[1,0],[3,2],[1,0],[3,2],[1,0]]}, "legend": null}}},
      {"transform": [{"filter": "datum.k=='l' && (datum.g=='o05' || datum.g=='o50' || datum.g=='o95')"}], "mark": {"type": "point", "shape": "square", "filled": true, "size": 14, "color": "#ff2020", "opacity": 1}, "encoding": {"y": {"field": "v", "type": "quantitative"}}}
     ]}
   ]},
   {"bounds": "flush", "spacing": 48.5, "hconcat": [
    {"title": "M4", "width": 277, "height": 230, "data": {"name": "d"}, "transform": [{"filter": "datum.p=='M4'"}],
     "encoding": {"x": {"field": "t", "type": "quantitative", "scale": {"domain": [-0.78, 15.95], "nice": false, "zero": false}, "axis": {"values": [0,2,4,6,8,10,12], "title": null}}},
     "layer": [
      {"transform": [{"filter": "datum.k=='b'"}], "mark": {"type": "area", "color": "#3c3cf0", "opacity": 0.55}, "encoding": {"y": {"field": "l", "type": "quantitative", "scale": {"type": "log", "domain": [0.0267, 170], "nice": false}, "axis": {"values": [0.03,0.04,0.05,0.06,0.07,0.08,0.09,0.1,0.2,0.3,0.4,0.5,0.6,0.7,0.8,0.9,1,2,3,4,5,6,7,8,9,10,20,30,40,50,60,70,80,90,100], "format": "~g", "labelExpr": "indexof([0.1,1,10,100], datum.value) >= 0 ? datum.label : ''", "tickSize": {"condition": {"test": "indexof([0.1,1,10,100], datum.value) >= 0", "value": 5}, "value": 2}, "title": null}}, "y2": {"field": "h"}, "detail": {"field": "g"}}},
      {"transform": [{"filter": "datum.k=='o'"}], "mark": {"type": "point", "filled": true, "size": 6, "color": "#4a4a4a", "opacity": 0.85}, "encoding": {"y": {"field": "v", "type": "quantitative"}}},
      {"transform": [{"filter": "datum.k=='l'"}], "mark": {"type": "line", "strokeWidth": 1.1}, "encoding": {"y": {"field": "v", "type": "quantitative"}, "color": {"field": "g", "type": "nominal", "scale": {"domain": ["s05","s50","s95","o05","o50","o95"], "range": ["#2828c8","#2828c8","#2828c8","#ff3030","#ff3030","#ff3030"]}, "legend": null}, "strokeDash": {"field": "g", "type": "nominal", "scale": {"domain": ["s05","s50","s95","o05","o50","o95"], "range": [[3,2],[1,0],[3,2],[1,0],[3,2],[1,0]]}, "legend": null}}},
      {"transform": [{"filter": "datum.k=='l' && (datum.g=='o05' || datum.g=='o50' || datum.g=='o95')"}], "mark": {"type": "point", "shape": "square", "filled": true, "size": 14, "color": "#ff2020", "opacity": 1}, "encoding": {"y": {"field": "v", "type": "quantitative"}}}
     ]},
    {"title": "M5", "width": 277, "height": 230, "data": {"name": "d"}, "transform": [{"filter": "datum.p=='M5'"}],
     "encoding": {"x": {"field": "t", "type": "quantitative", "scale": {"domain": [-0.78, 15.95], "nice": false, "zero": false}, "axis": {"values": [0,2,4,6,8,10,12], "title": null}}},
     "layer": [
      {"transform": [{"filter": "datum.k=='b'"}], "mark": {"type": "area", "color": "#3c3cf0", "opacity": 0.55}, "encoding": {"y": {"field": "l", "type": "quantitative", "scale": {"type": "log", "domain": [0.0267, 170], "nice": false}, "axis": {"values": [0.03,0.04,0.05,0.06,0.07,0.08,0.09,0.1,0.2,0.3,0.4,0.5,0.6,0.7,0.8,0.9,1,2,3,4,5,6,7,8,9,10,20,30,40,50,60,70,80,90,100], "format": "~g", "labelExpr": "indexof([0.1,1,10,100], datum.value) >= 0 ? datum.label : ''", "tickSize": {"condition": {"test": "indexof([0.1,1,10,100], datum.value) >= 0", "value": 5}, "value": 2}, "title": null}}, "y2": {"field": "h"}, "detail": {"field": "g"}}},
      {"transform": [{"filter": "datum.k=='o'"}], "mark": {"type": "point", "filled": true, "size": 6, "color": "#4a4a4a", "opacity": 0.85}, "encoding": {"y": {"field": "v", "type": "quantitative"}}},
      {"transform": [{"filter": "datum.k=='l'"}], "mark": {"type": "line", "strokeWidth": 1.1}, "encoding": {"y": {"field": "v", "type": "quantitative"}, "color": {"field": "g", "type": "nominal", "scale": {"domain": ["s05","s50","s95","o05","o50","o95"], "range": ["#2828c8","#2828c8","#2828c8","#ff3030","#ff3030","#ff3030"]}, "legend": null}, "strokeDash": {"field": "g", "type": "nominal", "scale": {"domain": ["s05","s50","s95","o05","o50","o95"], "range": [[3,2],[1,0],[3,2],[1,0],[3,2],[1,0]]}, "legend": null}}},
      {"transform": [{"filter": "datum.k=='l' && (datum.g=='o05' || datum.g=='o50' || datum.g=='o95')"}], "mark": {"type": "point", "shape": "square", "filled": true, "size": 14, "color": "#ff2020", "opacity": 1}, "encoding": {"y": {"field": "v", "type": "quantitative"}}}
     ]},
    {"title": "M6", "width": 277, "height": 230, "data": {"name": "d"}, "transform": [{"filter": "datum.p=='M6'"}],
     "encoding": {"x": {"field": "t", "type": "quantitative", "scale": {"domain": [-0.78, 15.95], "nice": false, "zero": false}, "axis": {"values": [0,2,4,6,8,10,12], "title": null}}},
     "layer": [
      {"transform": [{"filter": "datum.k=='b'"}], "mark": {"type": "area", "color": "#3c3cf0", "opacity": 0.55}, "encoding": {"y": {"field": "l", "type": "quantitative", "scale": {"type": "log", "domain": [0.0267, 170], "nice": false}, "axis": {"values": [0.03,0.04,0.05,0.06,0.07,0.08,0.09,0.1,0.2,0.3,0.4,0.5,0.6,0.7,0.8,0.9,1,2,3,4,5,6,7,8,9,10,20,30,40,50,60,70,80,90,100], "format": "~g", "labelExpr": "indexof([0.1,1,10,100], datum.value) >= 0 ? datum.label : ''", "tickSize": {"condition": {"test": "indexof([0.1,1,10,100], datum.value) >= 0", "value": 5}, "value": 2}, "title": null}}, "y2": {"field": "h"}, "detail": {"field": "g"}}},
      {"transform": [{"filter": "datum.k=='o'"}], "mark": {"type": "point", "filled": true, "size": 6, "color": "#4a4a4a", "opacity": 0.85}, "encoding": {"y": {"field": "v", "type": "quantitative"}}},
      {"transform": [{"filter": "datum.k=='l'"}], "mark": {"type": "line", "strokeWidth": 1.1}, "encoding": {"y": {"field": "v", "type": "quantitative"}, "color": {"field": "g", "type": "nominal", "scale": {"domain": ["s05","s50","s95","o05","o50","o95"], "range": ["#2828c8","#2828c8","#2828c8","#ff3030","#ff3030","#ff3030"]}, "legend": null}, "strokeDash": {"field": "g", "type": "nominal", "scale": {"domain": ["s05","s50","s95","o05","o50","o95"], "range": [[3,2],[1,0],[3,2],[1,0],[3,2],[1,0]]}, "legend": null}}},
      {"transform": [{"filter": "datum.k=='l' && (datum.g=='o05' || datum.g=='o50' || datum.g=='o95')"}], "mark": {"type": "point", "shape": "square", "filled": true, "size": 14, "color": "#ff2020", "opacity": 1}, "encoding": {"y": {"field": "v", "type": "quantitative"}}}
     ]},
    {"title": "M7", "width": 268, "height": 230, "data": {"name": "d"}, "transform": [{"filter": "datum.p=='M7'"}],
     "encoding": {"x": {"field": "t", "type": "quantitative", "scale": {"domain": [-0.78, 15.4], "nice": false, "zero": false}, "axis": {"values": [0,2,4,6,8,10,12], "title": null}}},
     "layer": [
      {"transform": [{"filter": "datum.k=='b'"}], "mark": {"type": "area", "color": "#3c3cf0", "opacity": 0.55}, "encoding": {"y": {"field": "l", "type": "quantitative", "scale": {"type": "log", "domain": [0.0267, 170], "nice": false}, "axis": {"values": [0.03,0.04,0.05,0.06,0.07,0.08,0.09,0.1,0.2,0.3,0.4,0.5,0.6,0.7,0.8,0.9,1,2,3,4,5,6,7,8,9,10,20,30,40,50,60,70,80,90,100], "format": "~g", "labelExpr": "indexof([0.1,1,10,100], datum.value) >= 0 ? datum.label : ''", "tickSize": {"condition": {"test": "indexof([0.1,1,10,100], datum.value) >= 0", "value": 5}, "value": 2}, "title": null}}, "y2": {"field": "h"}, "detail": {"field": "g"}}},
      {"transform": [{"filter": "datum.k=='o'"}], "mark": {"type": "point", "filled": true, "size": 6, "color": "#4a4a4a", "opacity": 0.85}, "encoding": {"y": {"field": "v", "type": "quantitative"}}},
      {"transform": [{"filter": "datum.k=='l'"}], "mark": {"type": "line", "strokeWidth": 1.1}, "encoding": {"y": {"field": "v", "type": "quantitative"}, "color": {"field": "g", "type": "nominal", "scale": {"domain": ["s05","s50","s95","o05","o50","o95"], "range": ["#2828c8","#2828c8","#2828c8","#ff3030","#ff3030","#ff3030"]}, "legend": null}, "strokeDash": {"field": "g", "type": "nominal", "scale": {"domain": ["s05","s50","s95","o05","o50","o95"], "range": [[3,2],[1,0],[3,2],[1,0],[3,2],[1,0]]}, "legend": null}}},
      {"transform": [{"filter": "datum.k=='l' && (datum.g=='o05' || datum.g=='o50' || datum.g=='o95')"}], "mark": {"type": "point", "shape": "square", "filled": true, "size": 14, "color": "#ff2020", "opacity": 1}, "encoding": {"y": {"field": "v", "type": "quantitative"}}}
     ]}
   ]}
  ]
}],
"config": {
  "view": {"stroke": "#a0a0a0", "strokeWidth": 1},
  "title": {"font": "Liberation Serif", "fontSize": 26, "fontWeight": "normal", "color": "#000", "offset": 5},
  "axis": {"grid": false, "domain": false, "labelFont": "Liberation Serif", "labelFontWeight": "bold", "labelFontSize": 14, "labelColor": "#000", "labelOverlap": false, "tickColor": "#777"},
  "axisX": {"ticks": true, "tickSize": 3, "labelPadding": 2},
  "axisY": {"labelPadding": 1}
}
}
